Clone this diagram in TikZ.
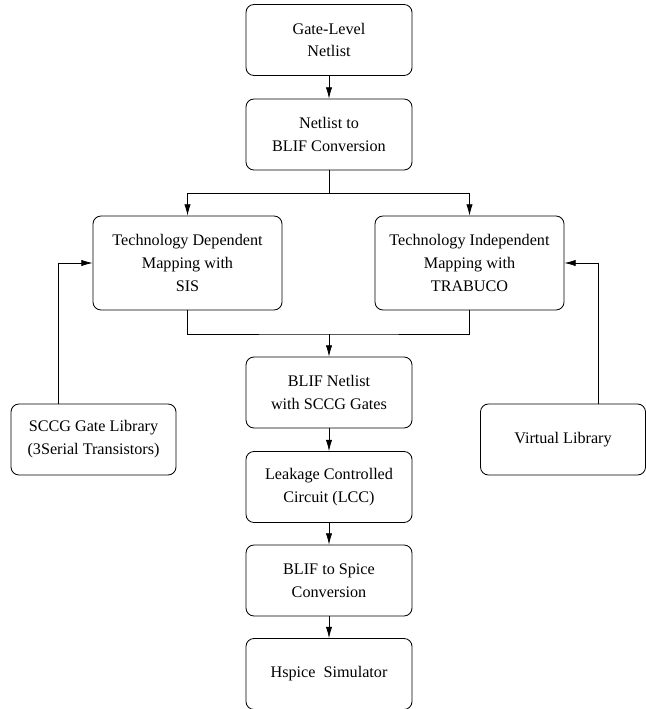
\documentclass[tikz,border=0pt]{standalone}
\usepackage{fontspec}
\setmainfont{Liberation Serif}
\usepackage{tikz}
\usetikzlibrary{arrows.meta}

\begin{document}
\begin{tikzpicture}[x=0.025cm, y=-0.025cm,
		box/.style = {draw, rounded corners=0.2cm, line width=0.6pt, align=center,
			minimum width=4.15cm, minimum height=1.775cm, inner sep=0pt,
			font=\fontsize{11.5}{16.3}\selectfont},
		bigbox/.style = {box, minimum width=4.725cm, minimum height=2.35cm},
		libbox/.style = {box, minimum width=4.125cm},
		flow/.style = {line width=0.5pt, -{Latex[length=8pt,width=4.5pt]}},
		line/.style = {line width=0.5pt}]
		\def\px{0.025cm};
		\useasboundingbox (0,0) rectangle (645,709);
	
		% main column
		\node[box] (gate) at (329,40) {Gate-Level\\ Netlist};
		\node[box] (conv) at (329,134.5) {Netlist to\\BLIF Conversion};
		\node[bigbox] (dep) at (187.5,263) {Technology Dependent\\Mapping with\\SIS};
		\node[bigbox] (indep) at (469.5,263) {Technology Independent\\Mapping with\\TRABUCO};
		\node[box] (blif) at (329,392.5) {BLIF Netlist\\with SCCG Gates};
		\node[box] (lcc) at (329,487) {Leakage Controlled\\Circuit (LCC)};
		\node[box] (spice) at (329,580.5) {BLIF to Spice\\Conversion};
		\node[box] (hspice) at (329,674) {Hspice\ \ Simulator};
	
		% libraries
		\node[libbox] (sccg) at (93.5,439.5) {SCCG Gate Library\\(3Serial Transistors)};
		\node[libbox] (virt) at (563,439.5) {Virtual Library};
	
		\coordinate (split) at (329,193);
		\coordinate (merge) at (329,334);
	
		\draw[flow] (gate) -- (conv);
		\draw[line] (conv) -- (split);
		\draw[flow] (split) -| (dep.north);
		\draw[flow] (split) -| (indep.north);
		\draw[line] (dep.south) |- (merge) -| (indep.south);
		\draw[flow] (merge) -- (blif);
		\draw[flow] (blif) -- (lcc);
		\draw[flow] (lcc) -- (spice);
		\draw[flow] (spice) -- (hspice);
		\draw[flow] ([xshift=-35.5*\px]sccg.north) |- (dep.west);
		\draw[flow] ([xshift=35*\px]virt.north) |- (indep.east);
	\end{tikzpicture}
\end{document}
